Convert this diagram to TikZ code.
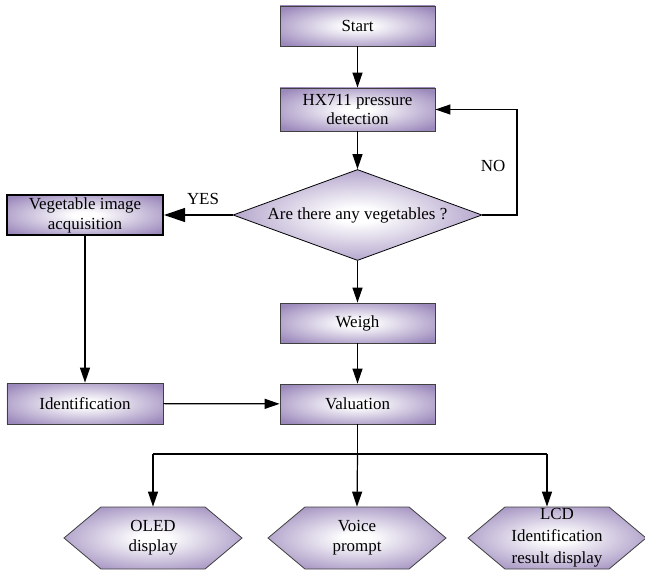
\documentclass[tikz,border=0pt]{standalone}
\usepackage{fontspec}
\setmainfont{Liberation Serif}
\usetikzlibrary{arrows.meta,shapes.geometric,shapes.symbols}
\definecolor{purp}{RGB}{156,137,188}
\pgfdeclareradialshading{boxshade}{\pgfpoint{0bp}{0bp}}{color(0bp)=(white); color(4bp)=(white); color(32bp)=(purp); color(100bp)=(purp)}
\begin{document}
\begin{tikzpicture}[x=1bp,y=-1bp,
  every node/.style={font=\fontsize{17}{20}\selectfont, align=center, inner sep=0pt},
  box/.style={rectangle, draw=black!75, line width=0.8bp, shading=boxshade, minimum width=155bp, minimum height=40bp},
  dec/.style={diamond, draw=black, line width=0.8bp, shading=boxshade, aspect=2.74, minimum width=249bp, minimum height=91bp},
  hex/.style={signal, signal to=east and west, signal pointer angle=80, draw=black!75, line width=0.8bp, shading=boxshade, minimum width=178bp, minimum height=62bp},
  conn/.style={line width=1.2bp},
  arr/.style={conn, -{Triangle[length=15bp,width=10bp]}},
  bigarr/.style={conn, -{Triangle[length=21bp,width=14bp]}}]
\useasboundingbox (0,0) rectangle (645,571);
\node[box] (start) at (357.5,26) {Start};
\node[box, minimum height=43bp] (hx) at (357.5,109.5) {HX711 pressure\\detection};
\node[dec] (dia) at (357.5,215) {Are there any vegetables ?};
\node[box] (weigh) at (357.5,323) {Weigh};
\node[box] (val) at (357.5,404) {Valuation};
\node[box, draw=black, line width=2bp, minimum width=156bp] (veg) at (85,215) {Vegetable image\\acquisition};
\node[box, minimum width=156bp, minimum height=41bp] (ident) at (85,403.5) {Identification};
\node[hex] (oled) at (153,538) {OLED\\display};
\node[hex] (voice) at (357,538) {Voice\\prompt};
\node[hex, font=\fontsize{17}{22}\selectfont] (lcd) at (557,538) {LCD\\Identification\\result display};
\node (yes) at (203,199) {YES};
\node (no) at (493,166) {NO};
\coordinate (nocorner) at (517,215);
\coordinate (bj) at (357.5,454);
\coordinate (bl) at (153,454);
\coordinate (br) at (547,454);
\draw[arr] (start) -- (hx);
\draw[arr] (hx) -- (dia);
\draw[bigarr] (dia.west) -- (veg.east);
\draw[arr] (dia.east) -- (nocorner) |- (hx.east);
\draw[arr] (dia) -- (weigh);
\draw[arr] (weigh) -- (val);
\draw[arr] (veg) -- (ident);
\draw[arr] (ident) -- (val);
\draw[conn] (val.south) -- (bj);
\draw[conn] (bl) -- (br);
\draw[arr] (bl) -- (oled.north);
\draw[arr] (bj) -- (voice.north);
\draw[arr] (br) -- (br |- lcd.north);
\end{tikzpicture}
\end{document}
